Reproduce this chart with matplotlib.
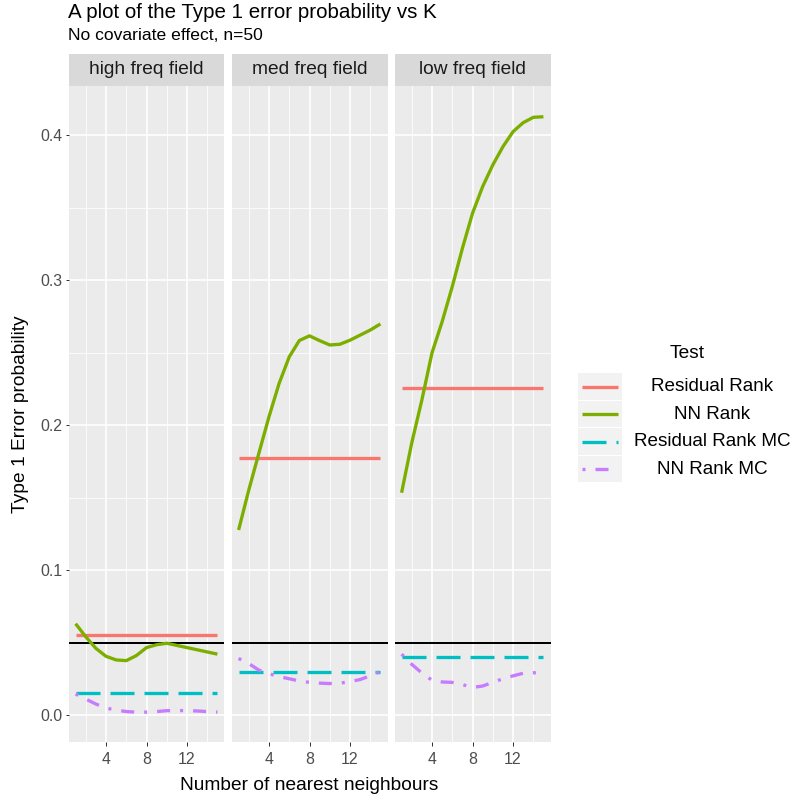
import matplotlib
matplotlib.use("Agg")
import matplotlib.pyplot as plt
from matplotlib.patches import Rectangle

plt.rcParams['font.family'] = ['Liberation Sans', 'DejaVu Sans']
plt.rcParams['lines.scale_dashes'] = False

# ---------------- data ----------------
panels = ["high freq field", "med freq field", "low freq field"]
k = list(range(1, 16))
tests = ["Residual Rank", "NN Rank", "Residual Rank MC", "NN Rank MC"]

resid_rank = [0.055, 0.1775, 0.2255]
resid_rank_mc = [0.015, 0.030, 0.040]

nn_rank_high = [0.063, 0.054, 0.046, 0.0405, 0.038, 0.0375, 0.041, 0.0465,
                0.0485, 0.0495, 0.048, 0.0465, 0.045, 0.0435, 0.042]
nn_rank_med = [0.1276, 0.155, 0.1805, 0.2057, 0.2287, 0.247, 0.2583, 0.2615,
               0.2582, 0.2552, 0.2557, 0.2585, 0.262, 0.2655, 0.2697]
nn_rank_low = [0.1533, 0.1876, 0.2172, 0.2497, 0.2712, 0.2954, 0.3218, 0.346,
               0.3644, 0.3793, 0.3919, 0.4023, 0.4085, 0.4122, 0.4126]

nn_mc_high = [0.0145, 0.011, 0.0076, 0.0048, 0.0034, 0.0024, 0.002, 0.002,
              0.0024, 0.003, 0.0031, 0.003, 0.0028, 0.0024, 0.002]
nn_mc_med = [0.039, 0.0355, 0.031, 0.0285, 0.0265, 0.025, 0.0235, 0.0225,
             0.022, 0.0217, 0.022, 0.023, 0.0245, 0.027, 0.030]
nn_mc_low = [0.042, 0.035, 0.029, 0.024, 0.0228, 0.0225, 0.021, 0.019,
             0.020, 0.0225, 0.025, 0.027, 0.0288, 0.0292, 0.0285]

nn_rank = [nn_rank_high, nn_rank_med, nn_rank_low]
nn_mc = [nn_mc_high, nn_mc_med, nn_mc_low]
alpha_level = 0.05

x_ticks = [4, 8, 12]
x_minor = [2, 6, 10, 14]
y_ticks = [0.0, 0.1, 0.2, 0.3, 0.4]
y_tick_labels = ["0.0", "0.1", "0.2", "0.3", "0.4"]
y_minor = [0.05, 0.15, 0.25, 0.35]

title = "A plot of the Type 1 error probability vs K"
subtitle = "No covariate effect, n=50"
xlabel = "Number of nearest neighbours"
ylabel = "Type 1 Error probability"
legend_title = "Test"

# ---------------- styles ----------------
W, H = 794, 798
colors = ["#F8766D", "#7CAE00", "#00BFC4", "#C77CFF"]
px = 0.72
lw = 3.3 * px
styles = ["-", "-", (0, (24 * px, 10 * px)), (0, (3 * px, 10 * px, 13 * px, 10 * px))]

fig = plt.figure(figsize=(W / 100, H / 100), dpi=100)
fig.patch.set_facecolor("white")

def fx(x):
    return x / W

def fy(y):
    return 1 - y / H

panel_left = [68.5, 231.5, 394.5]
panel_w = 156
panel_top, panel_bot = 86, 742
strip_top = 54

xlim = (0.3, 15.7)
ylim = (-0.0186, 0.4338)

for i, name in enumerate(panels):
    ax = fig.add_axes([fx(panel_left[i]), fy(panel_bot), panel_w / W, (panel_bot - panel_top) / H])
    ax.set_facecolor("#EBEBEB")
    for s in ax.spines.values():
        s.set_visible(False)
    ax.set_xlim(*xlim)
    ax.set_ylim(*ylim)
    ax.set_xticks(x_ticks)
    ax.set_xticks(x_minor, minor=True)
    ax.set_yticks(y_ticks)
    ax.set_yticks(y_minor, minor=True)
    ax.grid(which="major", color="white", linewidth=1.6 * px)
    ax.grid(which="minor", color="white", linewidth=0.8 * px)
    ax.set_axisbelow(True)
    ax.tick_params(which="minor", length=0)
    ax.tick_params(which="major", length=3.5 * px, width=1.0 * px, color="#333333",
                   labelcolor="#4D4D4D", labelsize=11.4, pad=2)
    ax.tick_params(axis="x", which="major", pad=5)
    ax.set_xticklabels([str(t) for t in x_ticks])
    if i == 0:
        ax.set_yticklabels(y_tick_labels)
    else:
        ax.tick_params(axis="y", which="both", left=False, labelleft=False)

    ax.axhline(alpha_level, color="black", linewidth=2.0 * px, zorder=2)
    ax.plot([k[0], k[-1]], [resid_rank[i], resid_rank[i]], color=colors[0], lw=lw,
            linestyle=styles[0], solid_capstyle="butt", zorder=3)
    ax.plot(k, nn_rank[i], color=colors[1], lw=lw, linestyle=styles[1],
            solid_capstyle="butt", solid_joinstyle="round", zorder=3)
    ax.plot([k[0], k[-1]], [resid_rank_mc[i], resid_rank_mc[i]], color=colors[2], lw=lw,
            linestyle=styles[2], dash_capstyle="butt", zorder=3)
    ax.plot(k, nn_mc[i], color=colors[3], lw=lw, linestyle=styles[3],
            dash_capstyle="butt", zorder=3)

    sax = fig.add_axes([fx(panel_left[i]), fy(panel_top), panel_w / W, (panel_top - strip_top) / H])
    sax.set_facecolor("#D9D9D9")
    sax.set_xticks([])
    sax.set_yticks([])
    for s in sax.spines.values():
        s.set_visible(False)
    sax.text(0.5, 0.5, name, ha="center", va="center", fontsize=13.8, color="#1A1A1A",
             transform=sax.transAxes)

fig.text(fx(68), fy(13), title, ha="left", va="center", fontsize=14.8, color="black")
fig.text(fx(68), fy(36), subtitle, ha="left", va="center", fontsize=12.6, color="black")
fig.text(fx(309.5), fy(785), xlabel, ha="center", va="center", fontsize=13.75, color="black")
fig.text(fx(21), fy(414), ylabel, ha="center", va="center", rotation=90, fontsize=13.75,
         color="black")

# ---------------- legend ----------------
lax = fig.add_axes([0, 0, 1, 1])
lax.set_xlim(0, W)
lax.set_ylim(H, 0)
lax.axis("off")
lax.text(687, 354, legend_title, ha="center", va="center", fontsize=13.75, color="black")
row_top = [373, 400.5, 428, 455.5]
row_h = 27.5
for j, lab in enumerate(tests):
    lax.add_patch(Rectangle((578, row_top[j]), 44, row_h - 1, facecolor="#F2F2F2",
                            edgecolor="none"))
    yc = row_top[j] + row_h / 2
    lax.plot([582, 618], [yc, yc], color=colors[j], lw=lw, linestyle=styles[j],
             solid_capstyle="butt", dash_capstyle="butt")
    lax.text(712, yc, lab, ha="center", va="center", fontsize=13.6, color="black")

fig.savefig("out.png", dpi=100, facecolor="white")
